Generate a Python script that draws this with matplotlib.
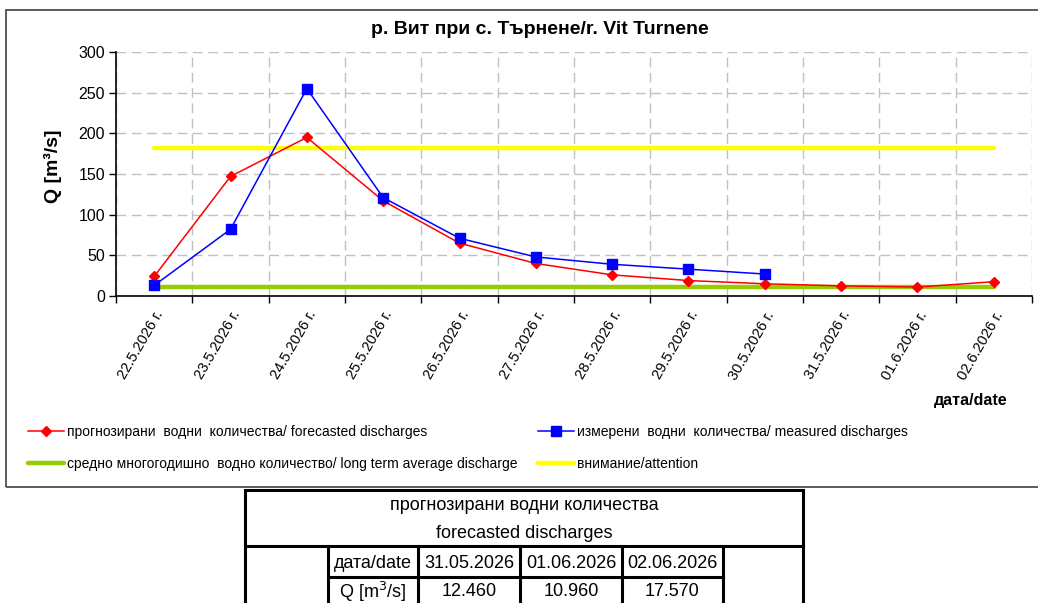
import matplotlib
matplotlib.use("Agg")
import matplotlib.pyplot as plt
from matplotlib.lines import Line2D
from matplotlib.patches import Rectangle

# data
dates = ["22.5.2026 г.", "23.5.2026 г.", "24.5.2026 г.", "25.5.2026 г.",
         "26.5.2026 г.", "27.5.2026 г.", "28.5.2026 г.", "29.5.2026 г.",
         "30.5.2026 г.", "31.5.2026 г.", "01.6.2026 г.", "02.6.2026 г."]
forecast = [24, 147, 195, 117, 65, 40, 26, 19, 15, 12.46, 10.96, 17.57]
measured = [13, 82, 255, 121, 71, 48, 39, 33, 27]
long_term_avg = 11.5
attention = 182
table_dates = ["31.05.2026", "01.06.2026", "02.06.2026"]
table_values = forecast[-3:]

W, H = 1038, 603
plt.rcParams['font.family'] = ['Liberation Sans', 'DejaVu Sans']
fig = plt.figure(figsize=(W / 100, H / 100), dpi=100)


def fx(px):
    return px / W


def fy(py):
    return 1 - py / H


# chart frame
fig.add_artist(Rectangle((fx(6), fy(487)), fx(1040) - fx(6), fy(10) - fy(487),
                         transform=fig.transFigure, fill=False, ec='#404040', lw=1.2))

ax = fig.add_axes([fx(116), fy(296), fx(1032) - fx(116), fy(52) - fy(296)])
x = list(range(len(dates)))

ax.plot(x, [long_term_avg] * len(x), color='#99CC00', lw=3.2, solid_capstyle='round',
        label='средно многогодишно  водно количество/ long term average discharge')
ax.plot(x, [attention] * len(x), color='#FFFF00', lw=3.2, solid_capstyle='round',
        label='внимание/attention')
ax.plot(x, forecast, color='#FF0000', lw=1.1, marker='D', ms=5,
        label='прогнозирани  водни  количества/ forecasted discharges')
ax.plot(x[:len(measured)], measured, color='#0000FF', lw=1.1, marker='s', ms=6.5,
        label='измерени  водни  количества/ measured discharges')

ax.set_xlim(-0.5, len(dates) - 0.5)
ax.set_ylim(0, 300)
ax.set_yticks(range(0, 301, 50))
ax.set_xticks([i - 0.5 for i in range(len(dates) + 1)])
ax.set_xticklabels([])
ax.set_xticks(x, minor=True)
ax.set_xticklabels(dates, minor=True, rotation=60, ha='right', va='top',
                   rotation_mode='anchor', fontsize=10.5)
ax.tick_params(axis='x', which='minor', length=0, pad=9)
ax.tick_params(axis='x', which='major', length=5, width=1)
ax.tick_params(axis='y', length=5, width=1, labelsize=11.5, pad=3)
ax.grid(True, which='major', color='#C0C0C0', ls=(0, (7, 4)), lw=1)
ax.set_axisbelow(True)
for s in ['top', 'right']:
    ax.spines[s].set_visible(False)
for s in ['left', 'bottom']:
    ax.spines[s].set_linewidth(1.2)

ax.set_ylabel('Q [m³/s]', fontsize=14, fontweight='bold')
ax.yaxis.set_label_coords(-0.059, 0.53)
fig.text(fx(540), fy(30), 'р. Вит при с. Търнене/r. Vit Turnene', ha='center', va='center',
         fontsize=14, fontweight='bold')
fig.text(fx(1008), fy(400), 'дата/date', ha='right', va='center', fontsize=11.5,
         fontweight='bold')

# legend, two columns placed as in the reference
h, l = ax.get_legend_handles_labels()
leg_kw = dict(frameon=False, fontsize=10, handlelength=2.6, handletextpad=0.2,
              labelspacing=1.3, borderaxespad=0, borderpad=0)
fig.legend([h[2], h[0]], [l[2], l[0]], loc='upper left',
           bbox_to_anchor=(fx(28), fy(425)), **leg_kw)
fig.legend([h[3], h[1]], [l[3], l[1]], loc='upper left',
           bbox_to_anchor=(fx(538), fy(425)), **leg_kw)

# table of forecasted discharges
tl, tr, tt, tb = 245, 803, 490, 610
lw_t = 2.2
fig.add_artist(Rectangle((fx(tl), fy(tb)), fx(tr) - fx(tl), fy(tt) - fy(tb),
                         transform=fig.transFigure, fill=False, ec='black', lw=lw_t))
fig.add_artist(Line2D([fx(tl), fx(tr)], [fy(546), fy(546)], color='black', lw=lw_t))
cols = [328, 418, 520, 622, 723]
for c in cols:
    fig.add_artist(Line2D([fx(c), fx(c)], [fy(546), fy(tb)], color='black', lw=lw_t))
fig.add_artist(Line2D([fx(328), fx(723)], [fy(577), fy(577)], color='black', lw=lw_t))

tkw = dict(ha='center', va='center', fontsize=13)
fig.text(fx(524), fy(506), 'прогнозирани водни количества', **tkw)
fig.text(fx(524), fy(533), 'forecasted discharges', **tkw)
fig.text(fx(373), fy(564), 'дата/date', **tkw)
fig.text(fx(373), fy(592), 'Q [m$^3$/s]', **tkw)
for i in range(len(table_dates)):
    cx = (cols[i + 1] + cols[i + 2]) / 2
    fig.text(fx(cx), fy(564), table_dates[i], **tkw)
    fig.text(fx(cx), fy(592), f'{table_values[i]:.3f}', **tkw)

fig.savefig('out.png', dpi=100)
